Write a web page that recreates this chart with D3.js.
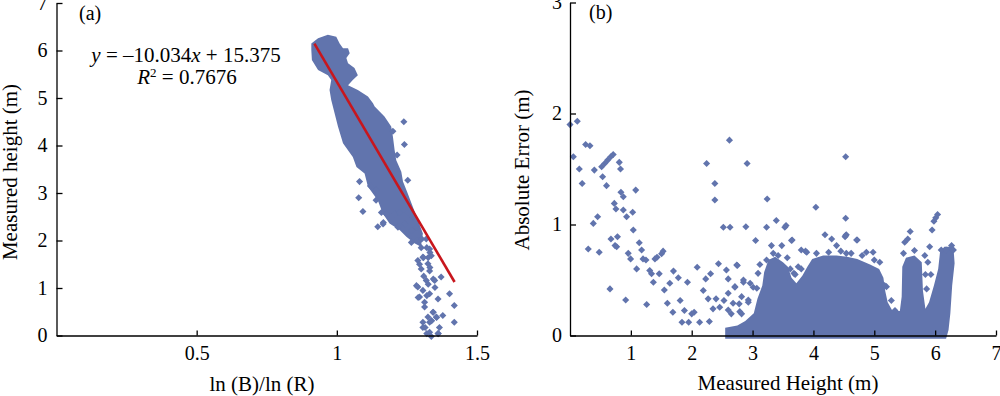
<!DOCTYPE html>
<html>
<head>
<meta charset="utf-8">
<script src="https://cdn.jsdelivr.net/npm/d3@7"></script>
<style>
body { margin: 0; background: #fff; }
svg { display: block; font-family: "Liberation Serif", "Times New Roman", serif; }
</style>
</head>
<body>
<svg id="chart" width="1000" height="396"></svg>
<script>
"use strict";
// panel (a): ln(B)/ln(R) vs measured height
var aXTicks = [0.5, 1, 1.5];
var aYTicks = [0, 1, 2, 3, 4, 5, 6, 7];
// dense core of the cloud (outline)
var aCore = [
  [0.909, 6.15], [0.933, 6.26], [0.968, 6.33], [0.998, 6.29], [1.01, 6.15], [1.022, 6.05], [1.04, 6.05],
  [1.046, 5.94], [1.034, 5.84], [1.04, 5.73], [1.063, 5.63], [1.075, 5.48], [1.057, 5.38], [1.04, 5.27],
  [1.075, 5.17], [1.111, 5.03], [1.129, 4.89], [1.135, 4.82], [1.17, 4.61], [1.194, 4.40], [1.2, 4.19],
  [1.206, 3.91], [1.212, 3.69], [1.23, 3.45], [1.236, 3.24], [1.253, 2.99], [1.271, 2.71], [1.289, 2.43],
  [1.307, 2.15], [1.30, 1.87], [1.277, 1.94], [1.248, 2.08], [1.224, 2.22], [1.188, 2.36], [1.164, 2.57],
  [1.146, 2.85], [1.111, 3.13], [1.099, 3.41], [1.07, 3.55], [1.057, 3.76], [1.022, 4.05], [1.004, 4.40],
  [0.992, 4.68], [0.98, 4.96], [0.974, 5.17], [0.98, 5.38], [0.968, 5.48], [0.933, 5.59], [0.911, 5.80],
  [0.909, 6.01]
];
// loose points and edge points
var aPoints = [
  [1.239, 4.50], [1.241, 4.02], [1.081, 3.24], [1.078, 2.90], [1.093, 2.61], [1.14, 2.85], [1.14, 3.06],
  [1.146, 2.29], [1.253, 3.27], [1.166, 2.38], [1.178, 2.55], [1.12, 3.15], [1.2, 4.3], [1.215, 3.8],
  [1.159, 2.59], [1.177, 2.56], [1.206, 2.56], [1.224, 2.59], [1.254, 2.59], [1.272, 2.49], [1.165, 2.35],
  [1.218, 2.28], [1.242, 2.35], [1.266, 2.21], [1.284, 2.28],
  [1.266, 1.96], [1.289, 2.0], [1.301, 1.85], [1.319, 2.03], [1.331, 1.82], [1.289, 1.58], [1.307, 1.65], [1.325, 1.51],
  [1.337, 1.68], [1.301, 1.40], [1.331, 1.36], [1.349, 1.16], [1.372, 1.23], [1.319, 1.16], [1.289, 1.02], [1.307, 0.95],
  [1.331, 0.88], [1.361, 0.77], [1.402, 0.88], [1.295, 0.81], [1.313, 0.60], [1.343, 0.49], [1.378, 0.42], [1.419, 0.63],
  [1.325, 0.39], [1.355, 0.39], [1.419, 0.28], [1.337, 0.31], [1.307, 0.17], [1.366, 0.17], [1.331, 0.07], [1.361, 0.04],
  [1.337, -0.02], [1.284, 1.05], [1.29, 0.80], [1.313, 0.70], [1.307, 0.28], [1.331, 0.28], [1.344, 1.19], [1.35, 1.01],
  [1.326, 1.08], [1.332, 1.43], [1.326, 1.64], [1.309, 1.64], [1.321, 1.85], [1.303, 2.03], [1.332, 1.75], [1.321, 0.84],
  [1.344, 0.49], [1.338, 0.31], [1.356, 0.38], [1.315, 0.17], [1.321, 0.04], [1.362, 0.04], [1.31, 1.25], [1.295, 1.5]
];
var fitSlope = -10.034;
var fitIntercept = 15.375;
var fitRange = [0.92, 1.42];

// panel (b): measured height vs absolute error
var bXTicks = [1, 2, 3, 4, 5, 6, 7];
var bYTicks = [0, 1, 2, 3];
var bCore = [
  [2.55, -0.03], [2.55, 0.07], [2.75, 0.09], [2.88, 0.13], [3.02, 0.2], [3.08, 0.33], [3.16, 0.45], [3.19, 0.57],
  [3.26, 0.68], [3.37, 0.71], [3.5, 0.66], [3.58, 0.62], [3.64, 0.52], [3.72, 0.47], [3.82, 0.54], [3.9, 0.62],
  [3.98, 0.69], [4.16, 0.72], [4.38, 0.72], [4.55, 0.71], [4.72, 0.69], [4.93, 0.64], [5.08, 0.6], [5.15, 0.52],
  [5.18, 0.4], [5.22, 0.3], [5.3, 0.22], [5.42, 0.22], [5.45, 0.35], [5.46, 0.62], [5.52, 0.7], [5.66, 0.72],
  [5.78, 0.66], [5.8, 0.4], [5.84, 0.24], [5.9, 0.3], [5.98, 0.45], [6.05, 0.6], [6.08, 0.75], [6.15, 0.8],
  [6.3, 0.8], [6.32, 0.65], [6.28, 0.45], [6.25, 0.2], [6.22, 0.05], [6.18, -0.03]
];
var bPoints = [
  [0.0, 1.90], [0.12, 1.93], [0.055, 1.61], [0.153, 1.50], [0.20, 1.37], [0.257, 1.72], [0.328, 1.71], [0.40, 1.49],
  [0.383, 1.01], [0.454, 1.07], [0.30, 0.78], [0.48, 0.75], [0.52, 1.52], [0.57, 1.55], [0.62, 1.58], [0.67, 1.61],
  [0.71, 1.63], [0.536, 1.43], [0.60, 1.35], [0.657, 0.42], [0.673, 0.87], [0.74, 0.81], [0.767, 0.80], [0.728, 1.19],
  [0.755, 1.14], [0.78, 0.89], [0.81, 1.56], [0.83, 1.50], [0.837, 1.29], [0.876, 1.25], [0.876, 1.13], [0.915, 0.32],
  [0.93, 1.07], [0.957, 0.74], [0.996, 0.69], [1.03, 1.11], [1.04, 0.95], [1.08, 1.31], [1.095, 0.60], [1.138, 0.835],
  [1.177, 0.77], [1.20, 0.69], [1.248, 0.68], [1.26, 0.28], [1.31, 0.585], [1.34, 0.556], [1.37, 0.48], [1.396, 0.69],
  [1.43, 0.705], [1.466, 0.556], [1.505, 0.736], [1.53, 0.76], [1.55, 0.41], [1.60, 0.29], [1.64, 0.47], [1.69, 0.21],
  [1.70, 0.58], [1.78, 0.52], [1.81, 0.315], [1.84, 0.12], [1.88, 0.225], [1.93, 0.48], [1.95, 0.12], [2.0, 0.195],
  [2.04, 0.21], [2.09, 0.615], [2.13, 0.12], [2.19, 0.405], [2.245, 1.55], [2.23, 0.51], [2.27, 0.33], [2.29, 0.126],
  [2.31, 0.556], [2.38, 1.37], [2.38, 1.22], [2.35, 0.24], [2.40, 0.33], [2.44, 0.646], [2.46, 0.255], [2.52, 0.976],
  [2.63, 0.976], [2.53, 0.315], [2.57, 0.59], [2.60, 0.51], [2.62, 1.76], [2.65, 0.195], [2.71, 0.435], [2.75, 0.63],
  [2.78, 0.285], [2.82, 0.195], [2.85, 0.48], [2.89, 0.98], [2.91, 1.55], [2.93, 0.30], [3.05, 0.856], [3.01, 0.435],
  [2.74, 0.635], [2.85, 0.5], [2.60, 0.38], [2.71, 0.44], [2.96, 0.47], [3.07, 0.425], [2.82, 0.35], [2.93, 0.32],
  [2.68, 0.29], [2.79, 0.215], [2.60, 0.23], [3.23, 0.68], [3.42, 0.72], [3.09, 0.56], [3.12, 0.64],
  [3.23, 0.976], [3.24, 1.23], [3.39, 1.036], [3.53, 0.976], [3.55, 0.99], [3.65, 0.86], [4.04, 1.156], [3.80, 0.77],
  [3.87, 0.76], [4.19, 0.907], [4.30, 0.87], [4.53, 1.61], [4.53, 1.057], [4.54, 0.907], [4.52, 0.89], [4.72, 0.86],
  [4.98, 0.75], [5.20, 0.44], [5.28, 0.315], [5.34, 0.225], [5.50, 0.84], [5.55, 0.87], [5.59, 0.937], [5.66, 0.766],
  [5.48, 0.74], [5.83, 0.72], [5.88, 0.66], [5.91, 0.80], [5.95, 0.95], [5.98, 1.03], [6.01, 1.06], [6.04, 1.09],
  [6.10, 0.77], [6.18, 0.77], [6.27, 0.81], [6.30, 0.77], [3.31, 0.81], [3.48, 0.81], [3.64, 0.856], [3.89, 0.75],
  [4.38, 0.81], [4.53, 0.90], [4.54, 0.74], [4.71, 0.86], [4.87, 0.75], [5.09, 0.66], [5.17, 0.45], [3.7, 0.55],
  [3.8, 0.6], [4.05, 0.74], [4.25, 0.75], [4.45, 0.76], [4.62, 0.74], [4.8, 0.72], [5.0, 0.68], [3.34, 0.74],
  [3.62, 0.6], [3.68, 0.56], [3.75, 0.62], [3.57, 0.7], [5.86, 0.42], [5.93, 0.55], [5.84, 0.55]
];

var dotColor = "#6174ad";
var svg = d3.select("#chart");
var diamond = d3.symbol().type(d3.symbolSquare).size(25);

function drawPanel(cfg) {
  var g = svg.append("g");
  var x = cfg.x, y = cfg.y;
  var outline = d3.line().x(function (d) { return x(d[0]); }).y(function (d) { return y(d[1]); })
    .curve(d3.curveLinearClosed);
  g.append("path").attr("d", outline(cfg.core)).attr("fill", dotColor);
  g.selectAll("path.dot").data(cfg.points).enter().append("path")
    .attr("class", "dot")
    .attr("d", diamond)
    .attr("fill", dotColor)
    .attr("transform", function (d) { return "translate(" + x(d[0]) + "," + y(d[1]) + ") rotate(45)"; });
  if (cfg.extra) cfg.extra(g, x, y);

  var xAxis = d3.axisBottom(x).tickValues(cfg.xTicks).tickFormat(d3.format("~g"))
    .tickSizeInner(-5).tickSizeOuter(0).tickPadding(10);
  var yAxis = d3.axisLeft(y).tickValues(cfg.yTicks).tickFormat(d3.format("~g"))
    .tickSizeInner(-6).tickSizeOuter(0).tickPadding(cfg.yPad);
  var gx = g.append("g").attr("transform", "translate(0," + y(0) + ")").call(xAxis);
  var gy = g.append("g").attr("transform", "translate(" + x(0) + ",0)").call(yAxis);
  [gx, gy].forEach(function (a) {
    a.selectAll("path, line").attr("stroke", "#000").attr("stroke-width", 1.3);
    a.selectAll("text").attr("font-family", "Liberation Serif, serif").attr("font-size", 20).attr("fill", "#000");
  });
  g.append("text").attr("x", cfg.xTitlePos[0]).attr("y", cfg.xTitlePos[1])
    .attr("text-anchor", "middle").attr("font-size", 21).text(cfg.xTitle);
  g.append("text").attr("transform", "translate(" + cfg.yTitlePos[0] + "," + cfg.yTitlePos[1] + ") rotate(-90)")
    .attr("text-anchor", "middle").attr("font-size", 21).text(cfg.yTitle);
  g.append("text").attr("x", cfg.tagPos[0]).attr("y", cfg.tagPos[1]).attr("font-size", 20).text(cfg.tag);
}

drawPanel({
  x: d3.scaleLinear().domain([0, 1.5]).range([56.5, 477]),
  y: d3.scaleLinear().domain([0, 7]).range([335.5, 3]),
  core: aCore, points: aPoints, xTicks: aXTicks, yTicks: aYTicks, yPad: 9,
  xTitle: "ln (B)/ln (R)", xTitlePos: [262, 391],
  yTitle: "Measured height (m)", yTitlePos: [17, 172],
  tag: "(a)", tagPos: [79, 20],
  extra: function (g, x, y) {
    g.append("line")
      .attr("x1", x(fitRange[0])).attr("y1", y(fitSlope * fitRange[0] + fitIntercept))
      .attr("x2", x(fitRange[1])).attr("y2", y(fitSlope * fitRange[1] + fitIntercept))
      .attr("stroke", "#c8161d").attr("stroke-width", 2.6);
    var eq = g.append("text").attr("x", 186).attr("y", 62).attr("text-anchor", "middle").attr("font-size", 21);
    eq.append("tspan").attr("font-style", "italic").text("y");
    eq.append("tspan").text(" = \u201310.034");
    eq.append("tspan").attr("font-style", "italic").text("x");
    eq.append("tspan").text(" + 15.375");
    var r2 = g.append("text").attr("x", 187).attr("y", 84).attr("text-anchor", "middle").attr("font-size", 21);
    r2.append("tspan").attr("font-style", "italic").text("R");
    r2.append("tspan").attr("font-size", 13).attr("dy", -7).text("2");
    r2.append("tspan").attr("dy", 7).text(" = 0.7676");
  }
});

drawPanel({
  x: d3.scaleLinear().domain([0, 7]).range([570, 996]),
  y: d3.scaleLinear().domain([0, 3]).range([335.5, 2.5]),
  core: bCore, points: bPoints, xTicks: bXTicks, yTicks: bYTicks, yPad: 8,
  xTitle: "Measured Height (m)", xTitlePos: [788, 390],
  yTitle: "Absolute Error (m)", yTitlePos: [529, 170],
  tag: "(b)", tagPos: [589, 19]
});
</script>
</body>
</html>
